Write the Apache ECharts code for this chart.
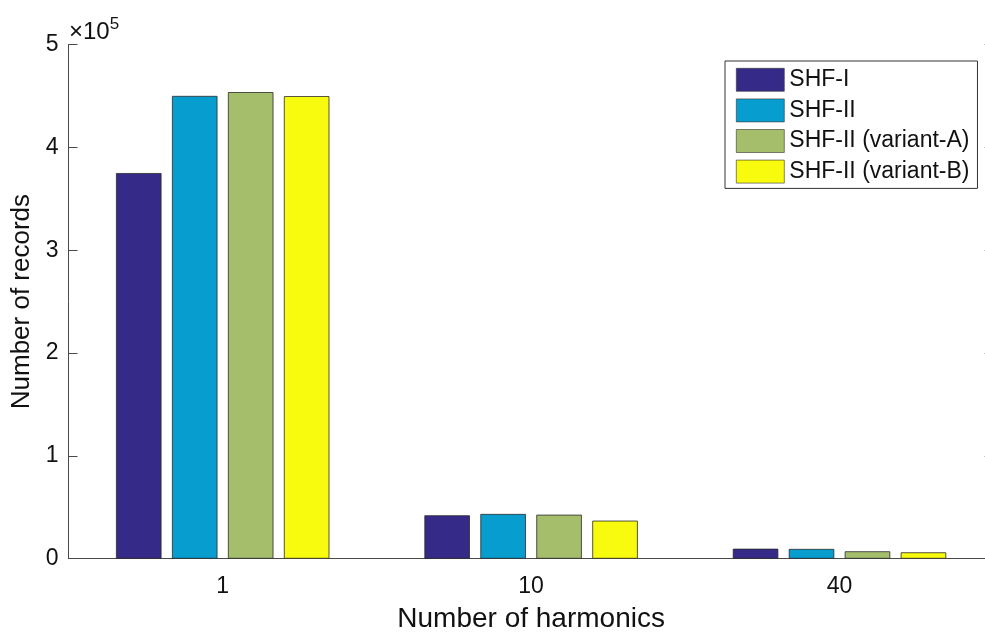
<!DOCTYPE html>
<html>
<head>
<meta charset="utf-8">
<script src="https://cdn.jsdelivr.net/npm/echarts@6/dist/echarts.min.js"></script>
<style>
html, body { margin: 0; padding: 0; background: #fff; }
#chart { width: 985px; height: 637px; }
</style>
</head>
<body>
<div id="chart"></div>
<script>
// Harmonic counts on the x axis
const categories = ['1', '10', '40'];
// Number of records per method
const shfI     = [375000, 42200, 9700];
const shfII    = [450000, 43500, 9500];
const variantA = [453700, 42800, 7200];
const variantB = [449800, 37000, 6200];
const seriesNames = ['SHF-I', 'SHF-II', 'SHF-II (variant-A)', 'SHF-II (variant-B)'];
const yTicks = [0, 100000, 200000, 300000, 400000, 500000];

const colors = ['#352A87', '#079DCF', '#A5BE6B', '#F9FB0E'];
const FONT = 'Liberation Sans, Arial, Helvetica, sans-serif';
const axisColor = '#4a4a4a';
const textColor = '#111';

const chart = echarts.init(document.getElementById('chart'), null, { renderer: 'canvas' });

// The plot box runs slightly past the right edge of the canvas
const grid = { left: 68.5, top: 44.5, width: 925.2, height: 514.2, outerBoundsMode: 'none', containLabel: false };

function barSeries(name, data, i) {
  return {
    name: name,
    type: 'bar',
    xAxisIndex: 0,
    yAxisIndex: 0,
    data: data,
    barWidth: 45.5,
    barGap: '23%',
    itemStyle: { color: colors[i], borderColor: '#2a2a2a', borderWidth: 0.8 },
    emphasis: { disabled: true }
  };
}

chart.setOption({
  animation: false,
  backgroundColor: '#fff',
  grid: grid,
  graphic: [{
    type: 'text',
    left: 69,
    top: 16,
    style: {
      text: '{a|×10}{s|5}',
      rich: {
        a: { fontFamily: FONT, fontSize: 24, fill: textColor, verticalAlign: 'bottom' },
        s: { fontFamily: FONT, fontSize: 17, fill: textColor, verticalAlign: 'top', padding: [0, 0, 11, 0] }
      }
    }
  }],
  legend: {
    orient: 'vertical',
    left: 725,
    top: 61,
    padding: [7, 8, 5, 11],
    itemWidth: 48,
    itemHeight: 23,
    itemGap: 7,
    backgroundColor: '#fff',
    borderColor: '#333',
    borderWidth: 1,
    borderRadius: 0,
    icon: 'rect',
    selectedMode: false,
    itemStyle: { borderWidth: 0.6, borderColor: '#333' },
    textStyle: { fontFamily: FONT, fontSize: 23, lineHeight: 23, color: textColor },
    data: seriesNames
  },
  xAxis: [{
    type: 'category',
    gridIndex: 0,
    data: categories,
    boundaryGap: true,
    name: 'Number of harmonics',
    nameLocation: 'middle',
    nameGap: 47,
    nameTextStyle: { fontFamily: FONT, fontSize: 28, color: textColor },
    axisLine: { lineStyle: { color: axisColor, width: 1 } },
    axisTick: { inside: true, alignWithLabel: true, length: 9, lineStyle: { color: axisColor } },
    axisLabel: { fontFamily: FONT, fontSize: 23, color: textColor, margin: 16 },
    splitLine: { show: false }
  }, {
    type: 'category',
    gridIndex: 0,
    position: 'top',
    data: categories,
    boundaryGap: true,
    axisLine: { lineStyle: { color: axisColor, width: 1 } },
    axisTick: { inside: true, alignWithLabel: true, length: 9, lineStyle: { color: axisColor } },
    axisLabel: { show: false },
    splitLine: { show: false }
  }],
  yAxis: [{
    type: 'value',
    gridIndex: 0,
    min: yTicks[0],
    max: yTicks[yTicks.length - 1],
    interval: yTicks[1] - yTicks[0],
    name: 'Number of records',
    nameLocation: 'middle',
    nameRotate: 90,
    nameGap: 32,
    nameTextStyle: { fontFamily: FONT, fontSize: 26, color: textColor },
    axisLine: { show: true, lineStyle: { color: axisColor, width: 1 } },
    axisTick: { show: true, inside: true, length: 9, lineStyle: { color: axisColor } },
    axisLabel: {
      fontFamily: FONT, fontSize: 23, color: textColor, margin: 10,
      formatter: v => String(v / 1e5)
    },
    splitLine: { show: false }
  }, {
    type: 'value',
    gridIndex: 0,
    position: 'right',
    min: yTicks[0],
    max: yTicks[yTicks.length - 1],
    interval: yTicks[1] - yTicks[0],
    axisLine: { show: true, lineStyle: { color: axisColor, width: 1 } },
    axisTick: { show: true, inside: true, length: 9, lineStyle: { color: axisColor } },
    axisLabel: { show: false },
    splitLine: { show: false }
  }],
  series: [
    barSeries(seriesNames[0], shfI, 0),
    barSeries(seriesNames[1], shfII, 1),
    barSeries(seriesNames[2], variantA, 2),
    barSeries(seriesNames[3], variantB, 3)
  ]
});
</script>
</body>
</html>
